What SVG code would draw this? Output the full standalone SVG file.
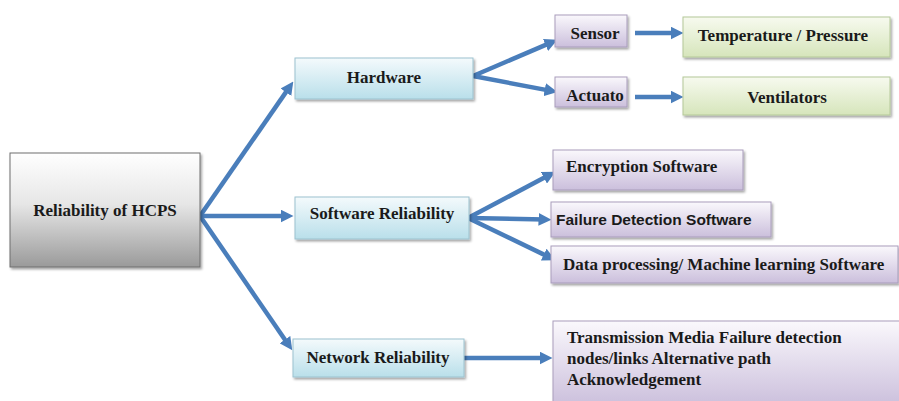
<svg xmlns="http://www.w3.org/2000/svg" width="899" height="401" viewBox="0 0 899 401">
<defs>
<linearGradient id="gGray" x1="0" y1="0" x2="0" y2="1"><stop offset="0" stop-color="#ffffff"/><stop offset="0.45" stop-color="#e6e6e6"/><stop offset="1" stop-color="#9a9a9a"/></linearGradient>
<linearGradient id="gBlue" x1="0" y1="0" x2="0" y2="1"><stop offset="0" stop-color="#f4fafc"/><stop offset="1" stop-color="#b9dfea"/></linearGradient>
<linearGradient id="gPurple" x1="0" y1="0" x2="0" y2="1"><stop offset="0" stop-color="#faf8fc"/><stop offset="1" stop-color="#cbbfdc"/></linearGradient>
<linearGradient id="gGreen" x1="0" y1="0" x2="0" y2="1"><stop offset="0" stop-color="#f7faef"/><stop offset="1" stop-color="#d6e5bb"/></linearGradient>
<filter id="sh" x="-10%" y="-20%" width="120%" height="150%"><feDropShadow dx="1.5" dy="2" stdDeviation="1.2" flood-color="#000" flood-opacity="0.35"/></filter>
<marker id="ah" viewBox="0 0 12 12" refX="6" refY="6" markerWidth="13" markerHeight="13" markerUnits="userSpaceOnUse" orient="auto"><path d="M0,0 L12,6 L0,12 z" fill="#4a7ebb"/></marker>
</defs>
<style>
.box{filter:url(#sh);stroke-width:1}
.gray{fill:url(#gGray);stroke:#6e6e6e}
.blue{fill:url(#gBlue);stroke:#9cc2cf}
.purple{fill:url(#gPurple);stroke:#a99dbb}
.green{fill:url(#gGreen);stroke:#b4c898}
.t{font-family:"Liberation Serif","Times New Roman",serif;font-weight:bold;font-size:17px;fill:#1a1a1a}
.s{font-family:"Liberation Sans",Arial,sans-serif;font-weight:bold;font-size:15.5px;fill:#1a1a1a}
.c{text-anchor:middle}
.con{stroke:#4a7ebb;stroke-width:4.5;fill:none;marker-end:url(#ah)}
</style>
<rect width="899" height="401" fill="#ffffff"/>
<g id="connectors">
<line class="con" x1="200" y1="216" x2="289.6" y2="86.9"/>
<line class="con" x1="200" y1="216" x2="287" y2="216"/>
<line class="con" x1="200" y1="216" x2="288.6" y2="345"/>
<line class="con" x1="473" y1="76" x2="551.5" y2="42.4"/>
<line class="con" x1="473" y1="76" x2="551.1" y2="90.9"/>
<line class="con" x1="635" y1="33" x2="677" y2="33"/>
<line class="con" x1="635" y1="97" x2="677" y2="97"/>
<line class="con" x1="468" y1="218" x2="549.7" y2="174.8"/>
<line class="con" x1="468" y1="218" x2="545" y2="219.5"/>
<line class="con" x1="468" y1="218" x2="549.6" y2="257.4"/>
<line class="con" x1="464" y1="358" x2="546" y2="358"/>
</g>
<g id="root"><rect class="box gray" x="10" y="153" width="190" height="114"/><text class="t c" x="105" y="216">Reliability of HCPS</text></g>
<g id="hardware"><rect class="box blue" x="295" y="58" width="178" height="41"/><text class="t c" x="384" y="83">Hardware</text></g>
<g id="software"><rect class="box blue" x="295" y="197" width="174" height="42"/><text class="t c" x="382" y="219">Software Reliability</text></g>
<g id="network"><rect class="box blue" x="293" y="339" width="171" height="38"/><text class="t c" x="378" y="363">Network Reliability</text></g>
<g id="sensor"><rect class="box purple" x="555" y="15" width="72" height="32"/><text class="t c" x="595" y="39">Sensor</text></g>
<g id="actuator"><rect class="box purple" x="555" y="77" width="72" height="30"/><text class="t c" x="595" y="101">Actuato</text></g>
<g id="temperature"><rect class="box green" x="683" y="17" width="207" height="40"/><text class="t c" x="783" y="41">Temperature / Pressure</text></g>
<g id="ventilators"><rect class="box green" x="683" y="77" width="207" height="38"/><text class="t c" x="787" y="103">Ventilators</text></g>
<g id="encryption"><rect class="box purple" x="553" y="150" width="190" height="40"/><text class="t" x="566" y="172">Encryption Software</text></g>
<g id="failure"><rect class="box purple" x="551" y="202" width="220" height="35"/><text class="s" x="556" y="225">Failure Detection Software</text></g>
<g id="dataprocessing"><rect class="box purple" x="551" y="246" width="347" height="37"/><text class="t" x="563" y="270">Data processing/ Machine learning Software</text></g>
<g id="transmission"><rect class="box purple" x="553" y="321" width="350" height="85"/><text class="t" x="567" y="343">Transmission Media Failure detection</text><text class="t" x="567" y="364">nodes/links Alternative path</text><text class="t" x="567" y="385">Acknowledgement</text></g>
</svg>
